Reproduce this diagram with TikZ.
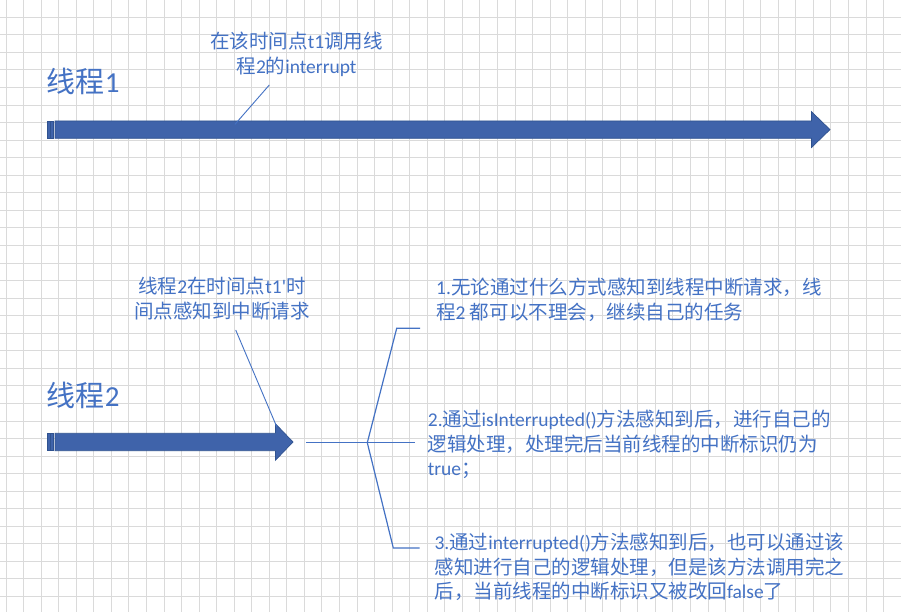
\documentclass[tikz,border=0pt]{standalone}
\usepackage{fontspec}
\setmainfont{Carlito}
\newfontfamily\zh{Noto Sans CJK SC}
\usepackage{xcolor}
\usetikzlibrary{positioning}

\definecolor{inkblue}{HTML}{4472C4}
\definecolor{arrowfill}{HTML}{3F63AA}
\definecolor{arrowedge}{HTML}{2F528F}
\definecolor{gridgray}{HTML}{DADADA}

\begin{document}
\begin{tikzpicture}[x=1pt, y=-1pt,
    gridline/.style={draw=gridgray, line width=0.9pt},
    title/.style={inner sep=0pt, anchor=north west, text=inkblue,
                  font=\fontsize{29}{32}\selectfont},
    note/.style={inner sep=0pt, text=inkblue, font=\fontsize{19.5}{24.5}\selectfont},
    shaft/.style={fill=arrowfill, draw=arrowedge, line width=0.7pt},
    pointer/.style={draw=inkblue, line width=0.9pt},
    brace/.style={draw=inkblue, line width=1.2pt}
    ]
    \fill[white] (0,0) rectangle (901,612);
    \useasboundingbox (0,0) rectangle (901,612);
    % sheet grid
    \foreach \i in {0,...,51}
        \draw[gridline] (6+17.55*\i,0) -- (6+17.55*\i,612);
    \foreach \j in {1,...,35}
        \draw[gridline] (0,-0.25+17.55*\j) -- (901,-0.25+17.55*\j);

    % thread 1
    \node[title] (thread1) at (46.7,68.3) {{\zh 线程}1};
    \path[shaft] (47.5,121) rectangle (49.9,138.3);
    \path[shaft] (50.6,121) rectangle (53.6,138.3);
    \path[shaft] (55,121) -- (811.5,121) -- (811.5,111.7) -- (830,129.6)
        -- (811.5,147.5) -- (811.5,138.3) -- (55,138.3) -- cycle;
    \node[note, align=center, anchor=north] (call1) at (296.5,32)
        {{\zh 在该时间点}t1{\zh 调用线}\\{\zh 程}2{\zh 的}interrupt};
    \coordinate (from1) at (269.3,85);
    \coordinate (hit1) at (235,124.3);
    \draw[pointer] (from1) -- (hit1);

    % thread 2
    \node[title] (thread2) at (46.7,381.7) {{\zh 线程}2};
    \path[shaft] (47.5,433.3) rectangle (49.9,450.7);
    \path[shaft] (50.6,433.3) rectangle (53.6,450.7);
    \path[shaft] (55,433.3) -- (275.5,433.3) -- (275.5,423.8) -- (293,442)
        -- (275.5,460.2) -- (275.5,450.7) -- (55,450.7) -- cycle;
    \node[note, align=center, anchor=north] (call2) at (222,277)
        {{\zh 线程}2{\zh 在时间点}t1\textquotesingle{\zh 时}\\{\zh 间点感知到中断请求}};
    \coordinate (from2) at (235.7,330);
    \coordinate (hit2) at (276.7,426.7);
    \draw[pointer] (from2) -- (hit2);

    % three outcomes
    \coordinate (stem) at (306,442.7);
    \coordinate (fork) at (367.3,442.7);
    \coordinate (up) at (396.7,328.3);
    \coordinate (upend) at (420,328.3);
    \coordinate (midend) at (415,442.7);
    \coordinate (down) at (393.3,548);
    \coordinate (downend) at (419.5,548);
    \draw[brace] (stem) -- (fork) -- (midend);
    \draw[brace] (upend) -- (up) -- (fork) -- (down) -- (downend);

    \node[note, align=left, anchor=north west] (case1) at (436,278)
        {1.{\zh 无论通过什么方式感知到线程中断请求，线}\\
         {\zh 程}2 {\zh 都可以不理会，继续自己的任务}};
    \node[note, align=left, anchor=north west] (case2) at (427.7,410)
        {2.{\zh 通过}isInterrupted(){\zh 方法感知到后，进行自己的}\\
         {\zh 逻辑处理，处理完后当前线程的中断标识仍为}\\
         true{\zh ；}};
    \node[note, align=left, anchor=north west] (case3) at (434.3,533)
        {3.{\zh 通过}interrupted(){\zh 方法感知到后，也可以通过该}\\
         {\zh 感知进行自己的逻辑处理，但是该方法调用完之}\\
         {\zh 后，当前线程的中断标识又被改回}false{\zh 了}};
\end{tikzpicture}
\end{document}
